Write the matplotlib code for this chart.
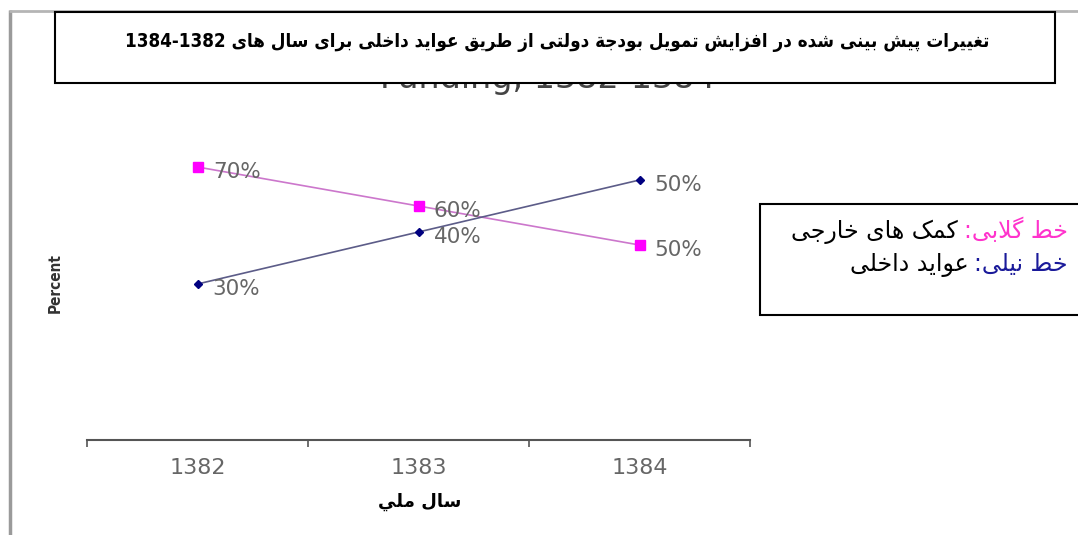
import matplotlib
matplotlib.use('Agg')
import matplotlib.pyplot as plt
import matplotlib.image as mpimg
from matplotlib.patches import Rectangle

# ---------------- data ----------------
years = ['1382', '1383', '1384']
foreign_aid = [70, 60, 50]          # pink line (primary scale)
domestic_revenue = [30, 40, 50]     # blue line (secondary scale)
foreign_labels = ['70%', '60%', '50%']
domestic_labels = ['30%', '40%', '50%']

title_text = 'تغییرات پیش بینی شده در افزایش تمویل بودجة دولتی از طریق عواید داخلی برای سال های'
title_years = '1384-1382'
hidden_title = 'Funding, 1382-1384'
xlabel_text = 'سال ملي'
ylabel_text = 'Percent'
legend_pink_key = 'خط گلابی:'
legend_pink_val = 'کمک های خارجی'
legend_blue_key = 'خط نیلی:'
legend_blue_val = 'عواید داخلی'

# ---------------- minimal Arabic/Persian shaping ----------------
_F = {
    'ا': ('\uFE8D', '\uFE8E', None, None),
    'آ': ('\uFE81', '\uFE82', None, None),
    'ب': ('\uFE8F', '\uFE90', '\uFE91', '\uFE92'),
    'ة': ('\uFE93', '\uFE94', None, None),
    'ت': ('\uFE95', '\uFE96', '\uFE97', '\uFE98'),
    'ج': ('\uFE9D', '\uFE9E', '\uFE9F', '\uFEA0'),
    'خ': ('\uFEA5', '\uFEA6', '\uFEA7', '\uFEA8'),
    'د': ('\uFEA9', '\uFEAA', None, None),
    'ر': ('\uFEAD', '\uFEAE', None, None),
    'ز': ('\uFEAF', '\uFEB0', None, None),
    'س': ('\uFEB1', '\uFEB2', '\uFEB3', '\uFEB4'),
    'ش': ('\uFEB5', '\uFEB6', '\uFEB7', '\uFEB8'),
    'ط': ('\uFEC1', '\uFEC2', '\uFEC3', '\uFEC4'),
    'ع': ('\uFEC9', '\uFECA', '\uFECB', '\uFECC'),
    'غ': ('\uFECD', '\uFECE', '\uFECF', '\uFED0'),
    'ف': ('\uFED1', '\uFED2', '\uFED3', '\uFED4'),
    'ق': ('\uFED5', '\uFED6', '\uFED7', '\uFED8'),
    'ل': ('\uFEDD', '\uFEDE', '\uFEDF', '\uFEE0'),
    'م': ('\uFEE1', '\uFEE2', '\uFEE3', '\uFEE4'),
    'ن': ('\uFEE5', '\uFEE6', '\uFEE7', '\uFEE8'),
    'ه': ('\uFEE9', '\uFEEA', '\uFEEB', '\uFEEC'),
    'و': ('\uFEED', '\uFEEE', None, None),
    'ي': ('\uFEF1', '\uFEF2', '\uFEF3', '\uFEF4'),
    'پ': ('\uFB56', '\uFB57', '\uFB58', '\uFB59'),
    'ک': ('\uFB8E', '\uFB8F', '\uFB90', '\uFB91'),
    'گ': ('\uFB92', '\uFB93', '\uFB94', '\uFB95'),
    'ی': ('\uFBFC', '\uFBFD', '\uFBFE', '\uFBFF'),
}
_LAMALEF = {'ا': ('\uFEFB', '\uFEFC'), 'آ': ('\uFEF5', '\uFEF6')}


def _joins_forward(c):
    return c in _F and _F[c][2] is not None


def shape(s):
    out = []
    i, n = 0, len(s)
    while i < n:
        c = s[i]
        if c not in _F:
            out.append(c)
            i += 1
            continue
        prev = s[i - 1] if i > 0 else ''
        jp = _joins_forward(prev)
        if c == 'ل' and i + 1 < n and s[i + 1] in _LAMALEF:
            lig = _LAMALEF[s[i + 1]]
            out.append(lig[1] if jp else lig[0])
            i += 2
            continue
        nxt = s[i + 1] if i + 1 < n else ''
        jn = _joins_forward(c) and nxt in _F
        iso, fin, ini, med = _F[c]
        if jp and jn:
            g = med
        elif jp:
            g = fin
        elif jn:
            g = ini
        else:
            g = iso
        out.append(g)
        i += 1
    return ''.join(out)


def visual(s):
    return shape(s)[::-1]


# ---------------- figure ----------------
plt.rcParams['font.family'] = ['DejaVu Sans']
W, H = 1078, 535
fig = plt.figure(figsize=(W / 100, H / 100), dpi=100)
fig.patch.set_facecolor('white')

ax_top, ax_bot = 120, 440
ax = fig.add_axes([87 / W, 1 - ax_bot / H, (750 - 87) / W, (ax_bot - ax_top) / H])
ax.set_facecolor('none')
x = list(range(len(years)))
ax.set_xlim(-0.5, len(years) - 0.5)
ax.set_ylim(0, (ax_bot - ax_top) / 3.9)
ax2 = ax.twinx()
ax2.set_ylim(0, (ax_bot - ax_top) / 5.2)

ax.plot(x, foreign_aid, color='#cc77cc', lw=1.2, marker='s', ms=6.5,
        mfc='#ff00ff', mec='#ff00ff', zorder=3)
ax2.plot(x, domestic_revenue, color='#5c5c88', lw=1.2, marker='D', ms=4.5,
         mfc='#000080', mec='#000080', zorder=3)

for xi, yi, lbl in zip(x, foreign_aid, foreign_labels):
    ax.annotate(lbl, (xi, yi), xytext=(11, -3.5), textcoords='offset points',
                ha='left', va='center', color='#666666', fontsize=15.5)
for xi, yi, lbl in zip(x, domestic_revenue, domestic_labels):
    ax2.annotate(lbl, (xi, yi), xytext=(11, -3.5), textcoords='offset points',
                 ha='left', va='center', color='#666666', fontsize=15.5)

for a in (ax, ax2):
    for side in ('top', 'left', 'right'):
        a.spines[side].set_visible(False)
    a.set_yticks([])
ax2.spines['bottom'].set_visible(False)
ax.spines['bottom'].set_color('#555555')
ax.spines['bottom'].set_linewidth(1.5)
ax.set_xticks(x)
ax.set_xticklabels(years, color='#666666', fontsize=16)
ax.set_xticks([-0.5, 0.5, 1.5, 2.5], minor=True)
ax.tick_params(axis='x', which='major', length=0, pad=13)
ax.tick_params(axis='x', which='minor', length=5, width=1.2, color='#555555', direction='out')

fig.text(55 / W, 1 - 283 / H, ylabel_text, rotation=90, ha='center', va='center',
         fontsize=11, color='#333333', fontweight='bold', fontstretch='condensed')
fig.text(420 / W, 1 - 502 / H, visual(xlabel_text), ha='center', va='center',
         fontsize=13, fontweight='bold', color='black')

# ---------------- old chart title: only its lower strip shows below the title box ----
box_top, box_bottom = 12, 83
strip_bottom = 100
hid = fig.add_axes([0, 1 - strip_bottom / H, 1, (strip_bottom - box_bottom - 1) / H])
hid.set_xlim(0, W)
hid.set_ylim(strip_bottom, box_bottom + 1)
hid.axis('off')
hid.text(548, 88, hidden_title, ha='center', va='baseline', fontsize=24,
         color='#444444', clip_on=True)

# ---------------- overlay (pixel coordinates) ----------------
ov = fig.add_axes([0, 0, 1, 1])
ov.set_xlim(0, W)
ov.set_ylim(H, 0)
ov.axis('off')

ov.plot([10, 10], [10, H], color='#9a9a9a', lw=2.5, solid_capstyle='butt')
ov.plot([9, W], [10.5, 10.5], color='#b5b5b5', lw=2, solid_capstyle='butt')

ov.add_patch(Rectangle((55, box_top), 1000, box_bottom - box_top, facecolor='white',
                       edgecolor='black', lw=1.5, zorder=2))
ov.text(557, 43, title_years + ' ' + visual(title_text), ha='center', va='center',
        fontsize=13.5, fontweight='bold', fontstretch='condensed', color='black', zorder=3)

ov.add_patch(Rectangle((760, 204), 340, 111, facecolor='white', edgecolor='black',
                       lw=1.5, zorder=2))

renderer = fig.canvas.get_renderer()
right_x = 1068
for key, val, kc, base in ((legend_pink_key, legend_pink_val, '#ff33cc', 238),
                           (legend_blue_key, legend_blue_val, '#1a1a9a', 271)):
    tk = ov.text(right_x, base, visual(key), ha='right', va='baseline',
                 fontsize=17, color=kc, zorder=3)
    bb = tk.get_window_extent(renderer)
    ov.text(bb.x0 - 6, base, visual(val), ha='right', va='baseline',
            fontsize=17, color='black', zorder=3)

fig.savefig('out.png', dpi=100)

# self-check: the area inside the title box under the title must stay blank
img = mpimg.imread('out.png')
region = img[60:80, 380:715, :3]
if region.min() < 0.7:
    raise RuntimeError('hidden title leaks into title box: min=%.3f' % region.min())
